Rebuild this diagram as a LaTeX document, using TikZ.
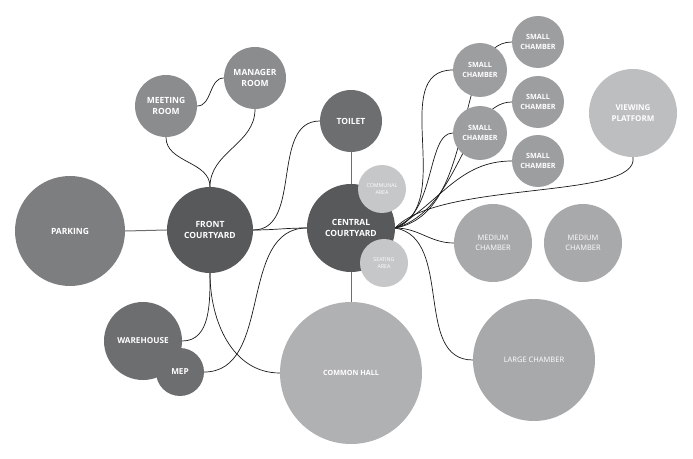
\documentclass[tikz,border=0pt]{standalone}
\usepackage{fontspec}
\setmainfont{Open Sans}
\usetikzlibrary{backgrounds}

\definecolor{hubgray}{HTML}{58595B}
\definecolor{servgray}{HTML}{6D6E70}
\definecolor{parkgray}{HTML}{7D7E80}
\definecolor{roomgray}{HTML}{8B8C8E}
\definecolor{smallgray}{HTML}{9D9EA0}
\definecolor{midgray}{HTML}{A8A9AB}
\definecolor{hallgray}{HTML}{B0B1B3}
\definecolor{viewgray}{HTML}{BDBEC0}
\definecolor{palegray}{HTML}{C6C7C9}

\begin{document}
\begin{tikzpicture}[
        x=1pt, y=1pt,
        room/.style={
            circle,
            inner sep=0pt,
            text=white,
            align=center,
            font=\bfseries\fontsize{8.5}{11}\selectfont
        },
        chamber/.style={
            room,
            font=\bfseries\fontsize{7.2}{9.5}\selectfont
        },
        plain/.style={
            room,
            font=\fontsize{7.5}{9.5}\selectfont
        },
        tiny/.style={
            room,
            font=\fontsize{5.3}{7}\selectfont
        },
        link/.style={line width=0.7pt, draw=black!90},
        spoke/.style={line width=1pt, draw=servgray}
    ]
        \useasboundingbox (0,0) rectangle (693,458);

        % Front side
        \node[room, fill=parkgray, minimum size=110pt] (parking) at (70,227) {PARKING};
        \node[room, fill=hubgray, minimum size=86pt] (front) at (210,228)
            {FRONT\\COURTYARD};
        \node[room, fill=roomgray, minimum size=62pt] (meeting) at (166,352)
            {MEETING\\ROOM};
        \node[room, fill=roomgray, minimum size=62pt] (manager) at (255,380)
            {MANAGER\\ROOM};
        \node[room, fill=servgray, minimum size=78pt,
            font=\bfseries\fontsize{8.2}{10}\selectfont] (warehouse) at (143,117) {WAREHOUSE};
        \node[room, fill=servgray, minimum size=48pt,
            font=\bfseries\fontsize{8.2}{10}\selectfont] (mep) at (180,86) {MEP};

        % Central courtyard and its neighbours
        \node[room, fill=servgray, minimum size=62pt] (toilet) at (351,337) {TOILET};
        \node[room, fill=hubgray, minimum size=88pt] (central) at (351,230)
            {CENTRAL\\COURTYARD};
        \node[tiny, fill=palegray, minimum size=48pt] (communal) at (382,269)
            {COMMUNAL\\AREA};
        \node[tiny, fill=palegray, minimum size=48pt] (seating) at (384,195)
            {SEATING\\AREA};
        \node[chamber, fill=hallgray, minimum size=142pt] (hall) at (351,85)
            {COMMON HALL};

        % Chambers
        \node[chamber, fill=smallgray, minimum size=52pt] (smallA) at (538,416)
            {SMALL\\CHAMBER};
        \node[chamber, fill=smallgray, minimum size=54pt] (smallB) at (480,388)
            {SMALL\\CHAMBER};
        \node[chamber, fill=smallgray, minimum size=52pt] (smallC) at (538,356)
            {SMALL\\CHAMBER};
        \node[chamber, fill=smallgray, minimum size=54pt] (smallD) at (480,325)
            {SMALL\\CHAMBER};
        \node[chamber, fill=smallgray, minimum size=52pt] (smallE) at (538,297)
            {SMALL\\CHAMBER};
        \node[chamber, fill=viewgray, minimum size=88pt,
            font=\bfseries\fontsize{8}{10.5}\selectfont] (viewing) at (633,345)
            {VIEWING\\PLATFORM};
        \node[plain, fill=midgray, minimum size=78pt] (mediumA) at (493,215)
            {MEDIUM\\CHAMBER};
        \node[plain, fill=midgray, minimum size=78pt] (mediumB) at (583,215)
            {MEDIUM\\CHAMBER};
        \node[plain, fill=midgray, minimum size=122pt] (large) at (534,98)
            {LARGE CHAMBER};

        \begin{scope}[on background layer]
            % straight spokes
            \draw[spoke] (parking.east) -- (front.west);
            \draw[spoke] (toilet.south) -- (central.north);
            \draw[spoke] (central.south) -- (hall.north);

            % front courtyard links
            \draw[link] (meeting.south) to[out=-90, in=90] (front.north);
            \draw[link] (manager.south) to[out=-90, in=90] (front.north);
            \draw[link] (meeting.east) to[out=0, in=180] (manager.west);
            \draw[link] (front.east) to[out=0, in=180] (toilet.west);
            \draw[link] (front.east) to[out=0, in=180] (central.west);
            \draw[link] (central.west) to[out=180, in=0] (mep.east);
            \draw[link] (front.south) to[out=-90, in=0] (warehouse.east);
            \draw[link] (front.south) to[out=-90, in=180] (hall.west);

            % central courtyard fan
            \draw[link] (central.east) to[out=10, in=180, in looseness=0.7] (smallA.west);
            \draw[link] (central.east) to[out=20, in=180] (smallB.west);
            \draw[link] (central.east) to[out=15, in=180, in looseness=0.7] (smallC.west);
            \draw[link] (central.east) to[out=20, in=180, in looseness=0.6] (smallD.west);
            \draw[link] (central.east) to[out=30, in=180] (smallE.west);
            \draw[link] (central.east) .. controls (440,278) and (640,258) .. (viewing.south);
            \draw[link] (central.east) to[out=0, in=180] (mediumA.west);
            \draw[link] (central.east) to[out=-10, in=180] (large.west);
        \end{scope}
    \end{tikzpicture}
\end{document}
